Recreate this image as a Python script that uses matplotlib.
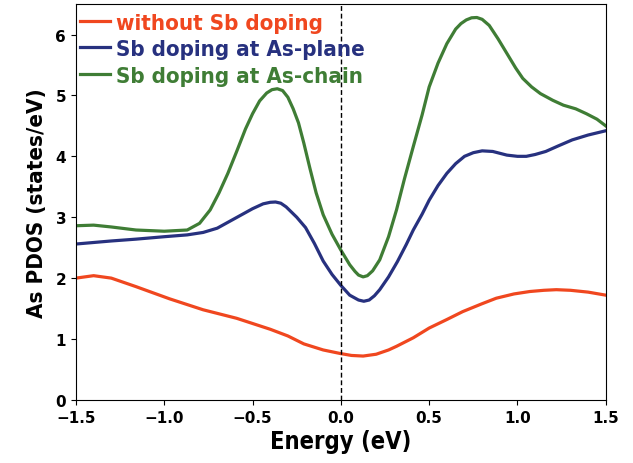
import matplotlib
matplotlib.use('Agg')
import matplotlib.pyplot as plt

# energies (eV) and PDOS values
e_red = [-1.5, -1.4, -1.3, -1.16, -0.97, -0.78, -0.59, -0.4, -0.3, -0.21, -0.1, 0.0,
         0.06, 0.126, 0.2, 0.27, 0.315, 0.41, 0.5, 0.6, 0.69, 0.8, 0.88, 0.98, 1.07,
         1.15, 1.22, 1.3, 1.4, 1.5]
pdos_red = [2.0, 2.04, 2.0, 1.86, 1.66, 1.48, 1.34, 1.16, 1.05, 0.92, 0.82, 0.76,
            0.73, 0.72, 0.75, 0.82, 0.88, 1.02, 1.18, 1.32, 1.45, 1.58, 1.67, 1.74, 1.78,
            1.80, 1.81, 1.80, 1.77, 1.72]

e_blue = [-1.5, -1.3, -1.16, -1.0, -0.87, -0.78, -0.7, -0.6, -0.5, -0.44, -0.4, -0.37,
          -0.34, -0.31, -0.25, -0.2, -0.15, -0.1, -0.05, 0.0, 0.05, 0.1, 0.13, 0.16, 0.19,
          0.22, 0.27, 0.32, 0.37, 0.41, 0.46, 0.5, 0.55, 0.6, 0.65, 0.7, 0.75, 0.8, 0.86,
          0.94, 1.0, 1.05, 1.1, 1.16, 1.23, 1.31, 1.4, 1.5]
pdos_blue = [2.56, 2.61, 2.64, 2.68, 2.71, 2.75, 2.82, 2.98, 3.14, 3.22, 3.245, 3.25,
             3.23, 3.17, 3.0, 2.83, 2.57, 2.28, 2.06, 1.88, 1.72, 1.64, 1.62, 1.64, 1.71,
             1.81, 2.02, 2.27, 2.55, 2.79, 3.05, 3.28, 3.52, 3.72, 3.88, 4.0, 4.06, 4.09,
             4.08, 4.02, 4.0, 4.0, 4.03, 4.08, 4.17, 4.27, 4.35, 4.42]

e_green = [-1.5, -1.4, -1.3, -1.16, -1.0, -0.87, -0.8, -0.74, -0.69, -0.64, -0.59, -0.54,
           -0.5, -0.46, -0.42, -0.39, -0.36, -0.33, -0.3, -0.27, -0.24, -0.21, -0.175,
           -0.14, -0.1, -0.05, 0.0, 0.05, 0.08, 0.1, 0.126, 0.15, 0.18, 0.22, 0.27, 0.315,
           0.36, 0.41, 0.46, 0.5, 0.55, 0.6, 0.65, 0.68, 0.71, 0.74, 0.77, 0.8, 0.84,
           0.89, 0.94, 0.99, 1.03, 1.08, 1.13, 1.2, 1.26, 1.33, 1.39, 1.45, 1.5]
pdos_green = [2.86, 2.87, 2.84, 2.79, 2.77, 2.79, 2.9, 3.12, 3.4, 3.72, 4.08, 4.45,
              4.7, 4.91, 5.04, 5.095, 5.11, 5.08, 4.97, 4.78, 4.55, 4.22, 3.8, 3.4, 3.04,
              2.72, 2.46, 2.22, 2.11, 2.05, 2.02, 2.04, 2.12, 2.3, 2.68, 3.12, 3.63, 4.16,
              4.68, 5.14, 5.53, 5.85, 6.09, 6.18, 6.24, 6.275, 6.28, 6.25, 6.15, 5.93, 5.69,
              5.45, 5.28, 5.14, 5.03, 4.92, 4.84, 4.78, 4.7, 4.61, 4.5]

labels = ['without Sb doping', 'Sb doping at As-plane', 'Sb doping at As-chain']
colors = ['#f0471f', '#27317f', '#3f7d35']

fig = plt.figure(figsize=(6.33, 4.64), dpi=100)
ax = fig.add_axes([0.120, 0.136, 0.837, 0.853])

ax.plot(e_red, pdos_red, color=colors[0], lw=2.3, label=labels[0])
ax.plot(e_blue, pdos_blue, color=colors[1], lw=2.3, label=labels[1])
ax.plot(e_green, pdos_green, color=colors[2], lw=2.3, label=labels[2])
ax.axvline(0, color='black', ls='--', lw=1.0, dashes=(3.5, 2))

ax.set_xlim(-1.5, 1.5)
ax.set_ylim(0, 6.5)
ax.set_xticks([-1.5, -1.0, -0.5, 0.0, 0.5, 1.0, 1.5])
ax.set_yticks([0, 1, 2, 3, 4, 5, 6])
for t in ax.get_xticklabels() + ax.get_yticklabels():
    t.set_fontweight('bold')
    t.set_fontsize(11)

ax.set_xlabel('Energy (eV)', family='DejaVu Sans', stretch='condensed',
              weight='bold', size=17, labelpad=3)
ax.set_ylabel('As PDOS (states/eV)', family='DejaVu Sans', stretch='condensed',
              weight='bold', size=16, labelpad=6)

leg = ax.legend(loc='upper left', bbox_to_anchor=(0, 0.99), frameon=False,
                handlelength=1.35, handletextpad=0.25,
                labelspacing=0.3, borderpad=0.2, borderaxespad=0.0,
                prop=dict(family='DejaVu Sans', stretch='condensed', weight='bold', size=16))
for txt, c in zip(leg.get_texts(), colors):
    txt.set_color(c)

fig.savefig('out.png', dpi=100)
